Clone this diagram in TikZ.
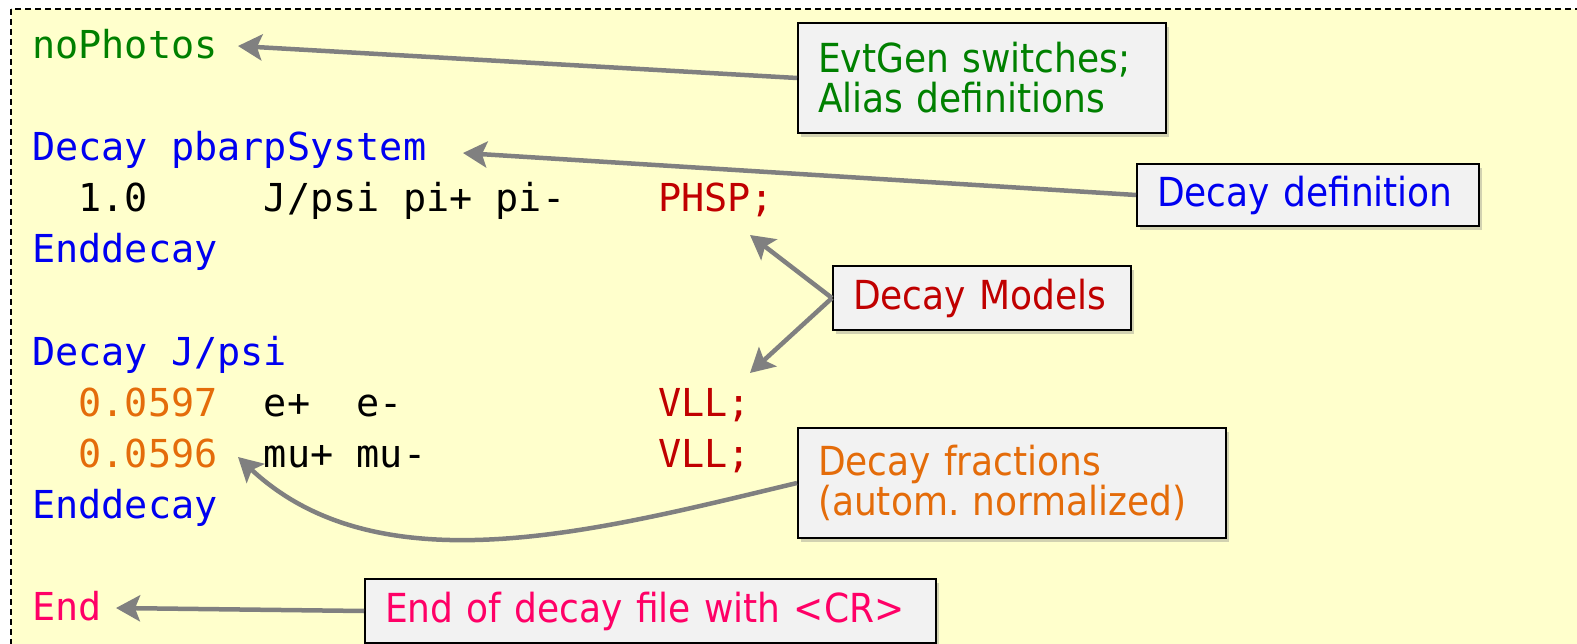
\documentclass[tikz,border=0pt]{standalone}
\usepackage{fontspec}
\setmonofont{DejaVu Sans Mono}
\newfontfamily\notefont{DejaVu Sans Condensed}
\usetikzlibrary{arrows.meta,shadows}

\definecolor{codebg}{HTML}{FFFFCC}
\definecolor{notebg}{HTML}{F2F2F2}
\definecolor{cgreen}{HTML}{008000}
\definecolor{cblue}{HTML}{0000F0}
\definecolor{cred}{HTML}{C00000}
\definecolor{corange}{HTML}{E46C0A}
\definecolor{cpink}{HTML}{FF0066}

\begin{document}
\begin{tikzpicture}[x=1pt,y=1pt,
    code/.style={anchor=base west,inner sep=0pt,font=\ttfamily\fontsize{38.5}{51}\selectfont},
    note/.style={anchor=north west,draw=black,line width=2pt,fill=notebg,
        drop shadow={opacity=0.35,shadow xshift=3pt,shadow yshift=-4pt},
        inner xsep=20pt,inner ysep=0pt,align=left,
        font=\notefont\fontsize{40}{40}\selectfont\frenchspacing},
    pointer/.style={draw=gray,line width=4.5pt,-{Stealth[length=24pt,width=26pt,inset=5pt]}}]
            \useasboundingbox (0,0) rectangle (1577,-644);
            \begin{scope}
            \clip (0,0) rectangle (1577,-644);
            \draw [fill=codebg,line width=1.2pt,dash pattern=on 6pt off 4pt] (11,-9) rectangle (1600,-680);
            \end{scope}

            \node [code,text=cgreen] (nophotos) at (32,-59) {noPhotos};
            \node [code,text=cblue] (decay1) at (32,-161) {Decay pbarpSystem};
            \node [code] (line1) at (32,-212) {\ \ 1.0\ \ \ \ \ J/psi pi+ pi-\ \ \ \ \textcolor{cred}{PHSP;}};
            \node [code,text=cblue] (end1) at (32,-263) {Enddecay};
            \node [code,text=cblue] (decay2) at (32,-365) {Decay J/psi};
            \node [code] (line2) at (32,-416) {\ \ \textcolor{corange}{0.0597}\ \ e+\ \ e-\ \ \ \ \ \ \ \ \ \ \ \textcolor{cred}{VLL;}};
            \node [code] (line3) at (32,-467) {\ \ \textcolor{corange}{0.0596}\ \ mu+ mu-\ \ \ \ \ \ \ \ \ \ \textcolor{cred}{VLL;}};
            \node [code,text=cblue] (end2) at (32,-518) {Enddecay};
            \node [code,text=cpink] (endfile) at (32,-620) {End};

            \node [note,text=cgreen,text width=328pt,minimum height=110pt] (switches) at (797,-22) {EvtGen switches;\\Alias definitions};
            \node [note,text=cblue,text width=302pt,minimum height=62pt] (definition) at (1136,-163) {Decay definition};
            \node [note,text=cred,text width=258pt,minimum height=64pt] (models) at (832,-265) {Decay Models};
            \node [note,text=corange,text width=388pt,minimum height=110pt] (fractions) at (797,-427) {Decay fractions\\(autom. normalized)};
            \node [note,text=cpink,text width=531pt,minimum height=64pt] (endnote) at (364,-578) {End of decay file with <CR>};

            \coordinate (photos) at (238,-46);
            \coordinate (system) at (463,-153);
            \coordinate (phsp) at (750,-235);
            \coordinate (vll) at (750,-373);
            \coordinate (frac) at (238,-457);
            \coordinate (end) at (116,-608);

            \draw [pointer] (switches.west) -- (photos);
            \draw [pointer] (definition.west) -- (system);
            \draw [pointer] (models.west) -- (phsp);
            \draw [pointer] (models.west) -- (vll);
            \draw [pointer] (fractions.west) .. controls (600,-530) and (380,-590) .. (frac);
            \draw [pointer] (endnote.west) -- (end);
\end{tikzpicture}
\end{document}
